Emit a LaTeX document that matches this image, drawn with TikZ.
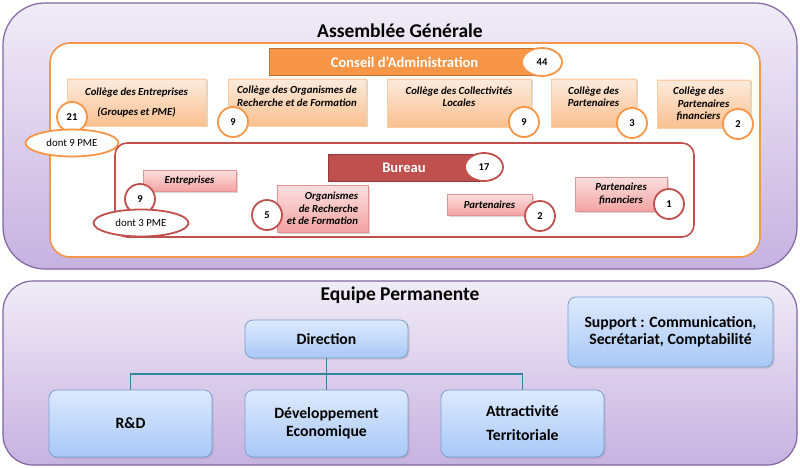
\documentclass[tikz,border=0pt]{standalone}
\usepackage{fontspec}
\setmainfont{Carlito}
\usetikzlibrary{shapes.geometric, positioning, shadows}

\definecolor{agpurple}{HTML}{8064A2}
\definecolor{agtop}{HTML}{F1ECF7}
\definecolor{agbot}{HTML}{C6B2E0}
\definecolor{caorange}{HTML}{F79646}
\definecolor{caborder}{HTML}{C0702F}
\definecolor{coltop}{HTML}{FDEBDD}
\definecolor{colbot}{HTML}{FAC08F}
\definecolor{burred}{HTML}{C0504D}
\definecolor{burborder}{HTML}{8E3A38}
\definecolor{redtop}{HTML}{FBE0DF}
\definecolor{redbot}{HTML}{F2A3A2}
\definecolor{bluetop}{HTML}{DDEAFD}
\definecolor{bluebot}{HTML}{A8C8F6}
\definecolor{blueborder}{HTML}{7C9FD2}
\definecolor{teal}{HTML}{31859C}

\begin{document}
\begin{tikzpicture}[
    x=1pt, y=-1pt,
    frame/.style={ % grands cadres violets
      rectangle,
      rounded corners=42pt,
      draw=agpurple,
      line width=1.2pt,
      top color=agtop,
      bottom color=agbot,
      inner sep=0pt, outer sep=0pt
    },
    title/.style={font=\fontsize{19.5}{22}\selectfont\bfseries},
    cabox/.style={
      rectangle,
      rounded corners=20pt,
      draw=caorange,
      line width=1.6pt,
      fill=white,
      inner sep=0pt, outer sep=0pt
    },
    burbox/.style={
      cabox,
      rounded corners=12pt,
      draw=burred
    },
    bar/.style={
      rectangle,
      fill=caorange,
      draw=caborder,
      line width=1pt,
      text=white,
      font=\fontsize{14.6}{16}\selectfont\bfseries,
      inner sep=0pt
    },
    college/.style={
      rectangle,
      top color=coltop,
      bottom color=colbot,
      draw=colbot!80!white,
      drop shadow={opacity=0.3, shadow xshift=1.5pt, shadow yshift=-1.5pt},
      align=center,
      font=\fontsize{10.8}{12.5}\selectfont\bfseries\itshape,
      inner sep=1pt
    },
    membre/.style={
      college,
      top color=redtop,
      bottom color=redbot,
      draw=redbot!80!burred
    },
    count/.style={
      circle,
      minimum size=30pt,
      inner sep=0pt,
      fill=white,
      draw=caorange,
      line width=1.8pt,
      font=\fontsize{10.5}{12}\selectfont\bfseries
    },
    oval/.style={
      count,
      ellipse,
      minimum size=0pt
    },
    service/.style={
      rectangle,
      rounded corners=8pt,
      top color=bluetop,
      bottom color=bluebot,
      draw=blueborder,
      line width=0.8pt,
      drop shadow={opacity=0.25, shadow xshift=1.5pt, shadow yshift=-1.5pt},
      align=center,
      font=\fontsize{15.7}{18}\selectfont\bfseries,
      inner sep=0pt
    },
    link/.style={
      draw=teal,
      line width=1.8pt
    }
  ]

  \useasboundingbox (0,0) rectangle (800,468);

  % Assemblée Générale
  \node[frame, minimum width=794pt, minimum height=266pt] (ag) at (400,136) {};
  \node[title] (agtitle) at (400,31) {Assemblée Générale};

  % Conseil d'Administration
  \node[cabox, minimum width=710pt, minimum height=214pt] (ca) at (405,150) {};
  \node[bar, minimum width=271pt, minimum height=27pt] (cabar) at (404.5,62.5) {Conseil d’Administration};
  \node[oval, minimum width=40pt, minimum height=28pt] (n44) at (542,62) {44};

  % Collèges
  \node[college, minimum width=139pt, minimum height=47pt] (col1) at (136.5,102.5)
    {Collège des Entreprises\\[8pt](Groupes et PME)};
  \node[college, minimum width=138pt, minimum height=47pt] (col2) at (297,102.5)
    {Collège des Organismes de\\Recherche et de Formation\\~};
  \node[college, minimum width=144pt, minimum height=48pt] (col3) at (459,103)
    {Collège des Collectivités\\Locales\\~};
  \node[college, minimum width=85pt, minimum height=48pt] (col4) at (593.5,103)
    {Collège des\\Partenaires\\~};
  \node[college, minimum width=93pt, minimum height=48pt] (col5) at (703.5,104)
    {Collège des\hspace*{10pt}\\Partenaires\hspace*{10pt}\\financiers\hspace*{10pt}};

  \node[count] (n21) at (72,117) {21};
  \node[count] (n9a) at (233,122) {9};
  \node[count] (n9b) at (524,122) {9};
  \node[count] (n3) at (632,123) {3};
  \node[count] (n2a) at (738,124) {2};
  \node[oval, minimum width=93pt, minimum height=27pt, font=\fontsize{10.8}{12}\selectfont] (pme9) at (72,143) {dont 9 PME};

  % Bureau
  \node[burbox, minimum width=579pt, minimum height=94pt] (bur) at (404.5,190) {};
  \node[bar, fill=burred, draw=burborder, minimum width=152pt, minimum height=27pt] (burbar) at (404,168) {Bureau};
  \node[oval, draw=burred, minimum width=38pt, minimum height=28pt] (n17) at (484,167) {17};

  \node[membre, minimum width=93pt, minimum height=21pt] (m1) at (189.5,180.5) {Entreprises};
  \node[membre, minimum width=91pt, minimum height=47pt, align=right] (m2) at (322.5,208.5)
    {Organismes\\de Recherche\\et de Formation};
  \node[membre, minimum width=85pt, minimum height=21pt] (m3) at (489.5,204.5) {Partenaires};
  \node[membre, minimum width=92pt, minimum height=34pt] (m4) at (621,194) {Partenaires\\financiers};

  \node[count, draw=burred] (n9c) at (140,199) {9};
  \node[count, draw=burred] (n5) at (267,215) {5};
  \node[count, draw=burred] (n2b) at (540,216) {2};
  \node[count, draw=burred] (n1) at (669,204) {1};
  \node[oval, draw=burred, minimum width=95pt, minimum height=27pt, font=\fontsize{10.8}{12}\selectfont] (pme3) at (141,223) {dont 3 PME};

  % Equipe Permanente
  \node[frame, rounded corners=30pt, minimum width=794pt, minimum height=184pt] (ep) at (400,373) {};
  \node[title] (eptitle) at (400,295) {Equipe Permanente};

  \node[service, minimum width=163pt, minimum height=38pt] (dir) at (326.5,339) {Direction};
  \node[service, minimum width=163pt, minimum height=67pt] (rd) at (130.5,423.5) {R\&D};
  \node[service, minimum width=163pt, minimum height=67pt] (dev) at (326.5,423.5) {Développement\\Economique};
  \node[service, minimum width=163pt, minimum height=67pt, font=\fontsize{15.7}{24}\selectfont\bfseries] (attr) at (522.5,423.5) {Attractivité\\Territoriale};
  \node[service, minimum width=205pt, minimum height=70pt, font=\fontsize{15.7}{17}\selectfont\bfseries] (supp) at (670.5,332) {Support : Communication,\\Secrétariat, Comptabilité};

  % Liaisons
  \coordinate (bus) at (326.5,374);
  \draw[link] (dir) -- (dev);
  \draw[link] (bus) -| (rd);
  \draw[link] (bus) -| (attr);

\end{tikzpicture}
\end{document}
